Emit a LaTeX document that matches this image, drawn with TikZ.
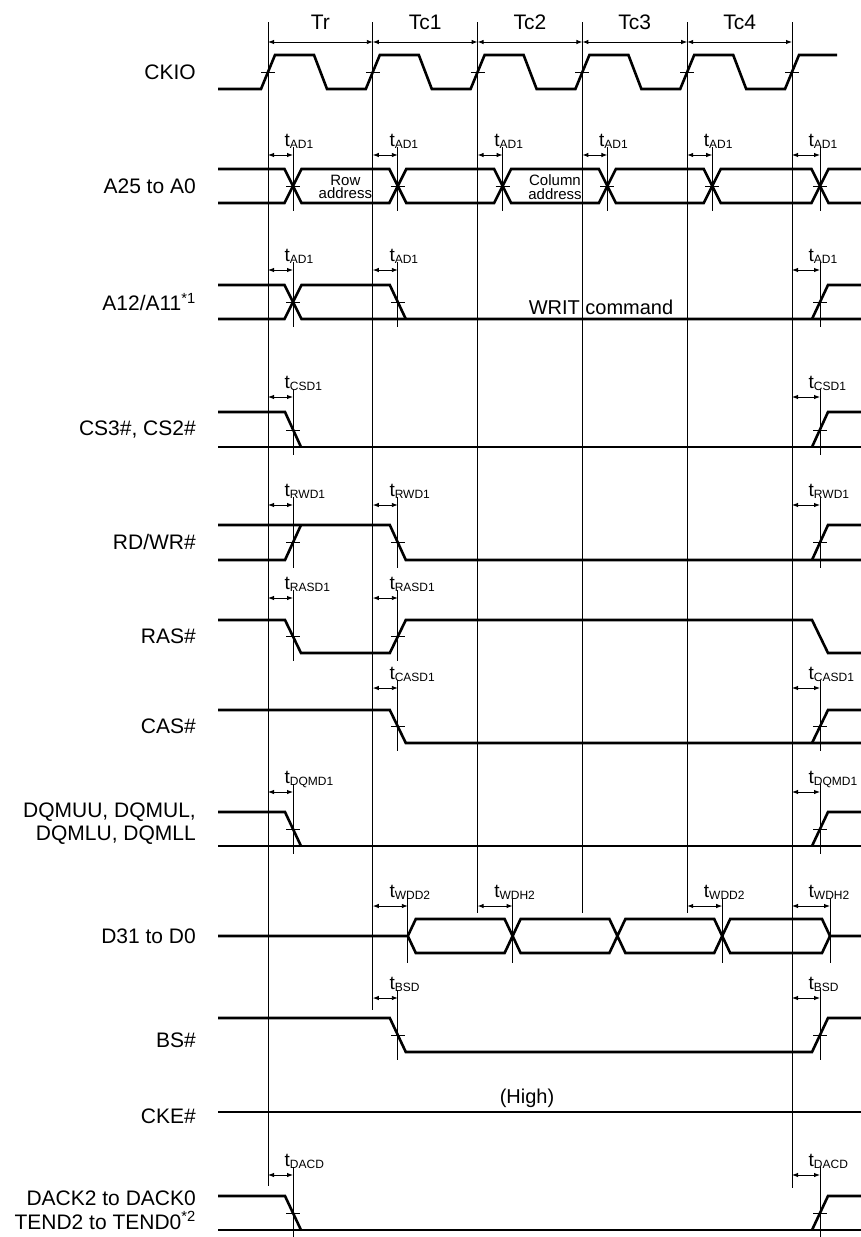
\documentclass[tikz,border=0pt]{standalone}
\usepackage{fontspec}
\setmainfont{Liberation Sans}
\usetikzlibrary{arrows.meta}
\tikzstyle{signal}=[line width=2.6pt]
\tikzstyle{gridline}=[line width=0.9pt]
\tikzstyle{marker}=[line width=0.9pt]
\tikzstyle{tick}=[line width=0.9pt]
\tikzstyle{dimarc}=[<->,>={Latex[length=6pt,width=4.5pt]},line width=0.9pt]
\tikzstyle{siglabel}=[anchor=east,align=right,inner sep=0pt,font=\fontsize{21}{24}\selectfont]
\tikzstyle{periodlabel}=[inner sep=0pt,font=\fontsize{21}{24}\selectfont]
\tikzstyle{buslabel}=[inner sep=0pt,align=center,font=\fontsize{15}{13.5}\selectfont]
\tikzstyle{notelabel}=[inner sep=0pt,font=\fontsize{20}{22}\selectfont]
\tikzstyle{tlabel}=[anchor=base west,inner sep=0pt]
\newcommand{\tsub}[1]{{\fontsize{19}{19}\selectfont t}\raisebox{-2.5pt}{\fontsize{12}{12}\selectfont #1}}
% #1 name, #2 edge x, #3 marker x, #4 arrow y, #5 marker end y, #6 subscript
\newcommand{\tmarker}[6]{%
  \coordinate (#1from) at (#2,#4);
  \coordinate (#1to) at (#3,#4);
  \draw[dimarc] (#1from) -- (#1to);
  \draw[marker] (#3,#4-8) -- (#3,#5);
  \node[tlabel] (#1) at (#2+16.5,#4-9) {\tsub{#6}};
}
\newcommand{\cross}[2]{\draw[tick] (#1-7,#2) -- (#1+7,#2);}

\begin{document}
\begin{tikzpicture}[x=1pt,y=-1pt]
\useasboundingbox (0,0) rectangle (861,1237);

% clock edges and cycles
\foreach \e/\yb in {268/1186, 372.8/1010, 477.6/913, 582.4/913, 687.2/913, 792/1188}
  \draw[gridline] (\e,22) -- (\e,\yb);
\coordinate (e0) at (268,42);
\coordinate (e1) at (372.8,42);
\coordinate (e2) at (477.6,42);
\coordinate (e3) at (582.4,42);
\coordinate (e4) at (687.2,42);
\coordinate (e5) at (792,42);
\draw[dimarc] (e0) -- (e1);
\draw[dimarc] (e1) -- (e2);
\draw[dimarc] (e2) -- (e3);
\draw[dimarc] (e3) -- (e4);
\draw[dimarc] (e4) -- (e5);
\node[periodlabel] (Tr) at (320.4,22) {Tr};
\node[periodlabel] (Tc1) at (425.2,22) {Tc1};
\node[periodlabel] (Tc2) at (530,22) {Tc2};
\node[periodlabel] (Tc3) at (634.8,22) {Tc3};
\node[periodlabel] (Tc4) at (739.6,22) {Tc4};

% signal names
\node[siglabel] (lCKIO) at (196,72) {CKIO};
\node[siglabel] (lA25) at (196,186) {A25 to A0};
\node[siglabel] (lA12) at (196,302) {A12/A11\textsuperscript{*1}};
\node[siglabel] (lCS) at (196,430) {CS3\#, CS2\#};
\node[siglabel] (lRDWR) at (196,542) {RD/WR\#};
\node[siglabel] (lRAS) at (196,636) {RAS\#};
\node[siglabel] (lCAS) at (196,726) {CAS\#};
\node[siglabel,font=\fontsize{21}{23}\selectfont] (lDQM) at (196,824) {DQMUU, DQMUL,\\DQMLU, DQMLL};
\node[siglabel] (lD31) at (196,936) {D31 to D0};
\node[siglabel] (lBS) at (196,1040) {BS\#};
\node[siglabel] (lCKE) at (196,1116) {CKE\#};
\node[siglabel] (lDACK) at (196,1210) {DACK2 to DACK0\\TEND2 to TEND0\textsuperscript{*2}};

% CKIO
\draw[signal] (218,89) foreach \e in {268,372.8,477.6,582.4,687.2} { -- (\e-7,89) -- (\e+7,55) -- (\e+46,55) -- (\e+59,89) } -- (785,89) -- (799,55) -- (837,55);
\foreach \e in {268,372.8,477.6,582.4,687.2,792} {\cross{\e}{72}}

% A25 to A0
\draw[signal] (218,169) -- (284.5,169) -- (301.5,203) -- (389.3,203) -- (406.3,169) -- (494.1,169) -- (511.1,203) -- (598.9,203) -- (615.9,169) -- (703.7,169) -- (720.7,203) -- (811.5,203) -- (828.5,169) -- (861,169);
\draw[signal] (218,203) -- (284.5,203) -- (301.5,169) -- (389.3,169) -- (406.3,203) -- (494.1,203) -- (511.1,169) -- (598.9,169) -- (615.9,203) -- (703.7,203) -- (720.7,169) -- (811.5,169) -- (828.5,203) -- (861,203);
\foreach \m in {293,397.8,502.6,607.4,712.2,820} {\cross{\m}{186}}
\tmarker{adA}{268}{293}{155}{211}{AD1}
\tmarker{adB}{372.8}{397.8}{155}{211}{AD1}
\tmarker{adC}{477.6}{502.6}{155}{211}{AD1}
\tmarker{adD}{582.4}{607.4}{155}{211}{AD1}
\tmarker{adE}{687.2}{712.2}{155}{211}{AD1}
\tmarker{adF}{792}{820}{155}{211}{AD1}
\node[buslabel] (rowaddr) at (345.4,187) {Row\\address};
\node[buslabel] (coladdr) at (555,187) {Column\\address};

% A12/A11
\draw[signal] (218,285) -- (284.5,285) -- (301.5,319) -- (861,319);
\draw[signal] (218,319) -- (284.5,319) -- (301.5,285) -- (389.8,285) -- (405.8,319);
\draw[signal] (812,319) -- (828,285) -- (861,285);
\cross{293}{302} \cross{397.8}{302} \cross{820}{302}
\tmarker{abA}{268}{293}{270}{327}{AD1}
\tmarker{abB}{372.8}{397.8}{270}{327}{AD1}
\tmarker{abF}{792}{820}{270}{327}{AD1}
\node[notelabel] (writ) at (601,307) {WRIT command};

% CS3#, CS2#
\draw[signal] (218,412) -- (285,412) -- (301,447);
\draw[signal] (218,447) -- (861,447);
\draw[signal] (812,447) -- (828,412) -- (861,412);
\cross{293}{430} \cross{820}{430}
\tmarker{csA}{268}{293}{397}{455}{CSD1}
\tmarker{csF}{792}{820}{397}{455}{CSD1}

% RD/WR#
\draw[signal] (218,560) -- (285,560) -- (301,525);
\draw[signal] (218,525) -- (389.8,525) -- (405.8,560) -- (861,560);
\draw[signal] (812,560) -- (828,525) -- (861,525);
\cross{293}{542} \cross{397.8}{542} \cross{820}{542}
\tmarker{rwA}{268}{293}{505}{568}{RWD1}
\tmarker{rwB}{372.8}{397.8}{505}{568}{RWD1}
\tmarker{rwF}{792}{820}{505}{568}{RWD1}

% RAS#
\draw[signal] (218,620) -- (285,620) -- (301,653) -- (389.8,653) -- (405.8,620) -- (812,620) -- (828,653) -- (861,653);
\cross{293}{636} \cross{397.8}{636}
\tmarker{rasA}{268}{293}{598}{661}{RASD1}
\tmarker{rasB}{372.8}{397.8}{598}{661}{RASD1}

% CAS#
\draw[signal] (218,710) -- (389.8,710) -- (405.8,743) -- (861,743);
\draw[signal] (812,743) -- (828,710) -- (861,710);
\cross{397.8}{726} \cross{820}{726}
\tmarker{casB}{372.8}{397.8}{688}{751}{CASD1}
\tmarker{casF}{792}{820}{688}{751}{CASD1}

% DQMxx
\draw[signal] (218,812) -- (285,812) -- (301,846);
\draw[signal] (218,846) -- (861,846);
\draw[signal] (812,846) -- (828,812) -- (861,812);
\cross{293}{829} \cross{820}{829}
\tmarker{dqA}{268}{293}{792}{854}{DQMD1}
\tmarker{dqF}{792}{820}{792}{854}{DQMD1}

% D31 to D0
\draw[signal] (218,936) -- (407.8,936) -- (415.8,919) -- (504.6,919) -- (512.6,936) -- (520.6,919) -- (609.4,919) -- (617.4,936) -- (625.4,919) -- (714.2,919) -- (722.2,936) -- (730.2,919) -- (822,919) -- (830,936) -- (861,936);
\draw[signal] (407.8,936) -- (415.8,953) -- (504.6,953) -- (512.6,936) -- (520.6,953) -- (609.4,953) -- (617.4,936) -- (625.4,953) -- (714.2,953) -- (722.2,936) -- (730.2,953) -- (822,953) -- (830,936);
\tmarker{wdB}{372.8}{407.8}{906}{963}{WDD2}
\tmarker{whC}{477.6}{512.6}{906}{963}{WDH2}
\tmarker{wdE}{687.2}{722.2}{906}{963}{WDD2}
\tmarker{whF}{792}{830}{906}{963}{WDH2}

% BS#
\draw[signal] (218,1018) -- (389.8,1018) -- (405.8,1052) -- (812,1052) -- (828,1018) -- (861,1018);
\cross{397.8}{1035} \cross{820}{1035}
\tmarker{bsB}{372.8}{397.8}{998}{1060}{BSD}
\tmarker{bsF}{792}{820}{998}{1060}{BSD}

% CKE#
\draw[signal] (218,1112) -- (861,1112);
\node[notelabel] (high) at (527,1098) {(High)};

% DACK / TEND
\draw[signal] (218,1196) -- (285,1196) -- (301,1230);
\draw[signal] (218,1230) -- (861,1230);
\draw[signal] (812,1230) -- (828,1196) -- (861,1196);
\cross{293}{1213} \cross{820}{1213}
\tmarker{dcA}{268}{293}{1175}{1240}{DACD}
\tmarker{dcF}{792}{820}{1175}{1240}{DACD}

\end{tikzpicture}
\end{document}
